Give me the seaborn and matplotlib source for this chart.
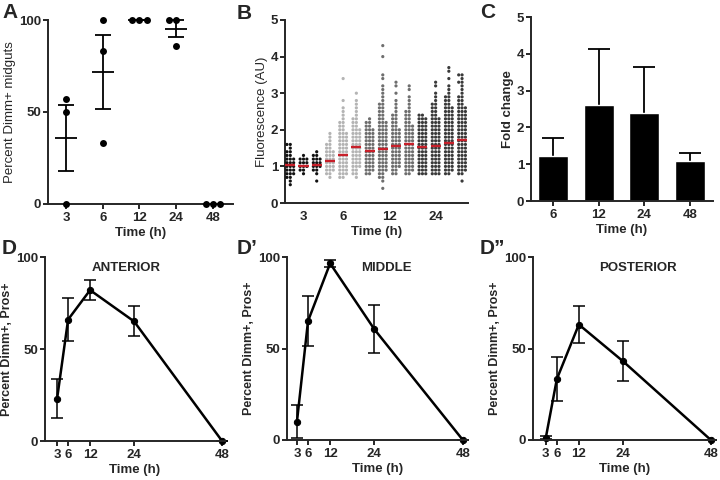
import warnings
import numpy as np
import pandas as pd
import matplotlib
matplotlib.use("Agg")
import matplotlib.pyplot as plt
import seaborn as sns

warnings.filterwarnings("ignore")

# ---- panel A: percent Dimm+ midguts, one dot per replicate
a_times = ["3", "6", "12", "24", "48"]
a_3h = [57, 50, 0]
a_6h = [100, 83, 33]
a_12h = [100, 100, 100]
a_24h = [100, 100, 86]
a_48h = [0, 0, 0]

# ---- panel B: fluorescence per gut, counts per 0.1 AU bin
b_start = [0.5, 0.8, 0.6, 0.7, 0.7, 0.7, 0.8, 0.4, 0.8, 0.8, 0.8, 0.8, 0.8, 0.6]
b_counts = [
    [1, 1, 2, 3, 3, 3, 3, 3, 2, 2, 1, 2],
    [1, 2, 3, 3, 3, 1],
    [1, 0, 1, 2, 3, 3, 3, 2, 1],
    [1, 2, 3, 3, 3, 3, 3, 3, 2, 2, 1, 1, 1],
    [2, 3, 3, 3, 3, 3, 3, 3, 3, 3, 3, 3, 3, 2, 2, 2, 1, 1, 1, 1, 0, 1, 0, 0, 0, 0, 0, 1],
    [1, 2, 2, 3, 3, 3, 3, 3, 3, 3, 3, 3, 3, 3, 2, 2, 2, 1, 1, 1, 1, 1, 0, 1],
    [2, 3, 3, 3, 3, 3, 3, 3, 3, 3, 3, 3, 3, 2, 2, 1],
    [1, 0, 1, 2, 2, 3, 3, 3, 3, 3, 3, 3, 3, 3, 3, 3, 3, 3, 3, 2, 2, 2, 2, 2, 1, 1,
     1, 1, 1, 0, 1, 1, 0, 0, 0, 0, 1, 0, 0, 1],
    [2, 2, 3, 3, 3, 3, 3, 3, 3, 3, 3, 3, 3, 2, 2, 2, 2, 1, 1, 1, 1, 0, 1, 0, 1, 1],
    [2, 3, 3, 3, 3, 3, 3, 3, 3, 3, 3, 3, 3, 3, 2, 2, 2, 2, 1, 1, 1, 1, 0, 1, 1],
    [3, 3, 3, 3, 3, 3, 3, 3, 3, 3, 3, 3, 3, 3, 3, 3, 2],
    [3, 3, 3, 3, 3, 3, 3, 3, 3, 3, 3, 3, 3, 3, 3, 3, 2, 2, 2, 2, 1, 1, 1, 0, 1, 1],
    [2, 3, 3, 3, 3, 3, 3, 3, 3, 3, 3, 3, 3, 3, 3, 3, 3, 3, 3, 2, 2, 2, 1, 1, 1, 0, 1, 0, 1, 1],
    [1, 0, 2, 3, 3, 3, 3, 3, 3, 3, 3, 3, 3, 3, 3, 3, 3, 3, 3, 3, 3, 2, 2, 2, 1, 1, 1, 2, 1, 2],
]
b_medians = [1.03, 1.02, 1.03, 1.15, 1.30, 1.53, 1.41, 1.47, 1.57, 1.60, 1.52, 1.55, 1.65, 1.73]
b_shades = ["#111111"] * 3 + ["#b4b4b4"] * 3 + ["#6e6e6e"] * 4 + ["#3a3a3a"] * 4
b_tick_pos = [1, 4, 7.5, 11]
b_tick_lab = ["3", "6", "12", "24"]

# ---- panel C: fold change
c_times = ["6", "12", "24", "48"]
c_fold = [1.23, 2.60, 2.40, 1.08]
c_err = [0.47, 1.53, 1.23, 0.22]

# ---- panels D: percent Dimm+, Pros+ by region
d_times = [3, 6, 12, 24, 48]
d_ant = [23, 66, 82, 65, 0]
d_ant_sem = [10.5, 11.7, 5.4, 8.2, 0]
d_mid = [10, 65, 96.5, 60.5, 0]
d_mid_sem = [9.1, 13.9, 1.8, 13.2, 0]
d_post = [1.3, 33.3, 63.1, 43.1, 0]
d_post_sem = [1.0, 12.0, 10.0, 11.1, 0]

sns.set_style("ticks")
plt.rcParams["font.family"] = ["Liberation Sans", "DejaVu Sans"]
plt.rcParams["axes.linewidth"] = 1.4
plt.rcParams["xtick.major.width"] = 1.4
plt.rcParams["ytick.major.width"] = 1.4
plt.rcParams["xtick.major.size"] = 3.5
plt.rcParams["ytick.major.size"] = 3.5
plt.rcParams["xtick.major.pad"] = 2.5
plt.rcParams["ytick.major.pad"] = 1.5
plt.rcParams["xtick.labelsize"] = 9.5
plt.rcParams["ytick.labelsize"] = 9.5
plt.rcParams["axes.labelpad"] = 2

fig = plt.figure(figsize=(7.2, 4.8), dpi=100)


def px_axes(left, top, right, bottom):
    return fig.add_axes([left / 720, 1 - bottom / 480, (right - left) / 720, (bottom - top) / 480])


def finish(ax):
    sns.despine(ax=ax)
    for lab in ax.get_xticklabels() + ax.get_yticklabels():
        lab.set_fontweight("bold")


# A
axA = px_axes(48, 20, 233, 204)
df_a = pd.DataFrame({
    "time": np.repeat(a_times, 3),
    "pct": a_3h + a_6h + a_12h + a_24h + a_48h,
})
axA.set_ylim(0, 100)
sns.swarmplot(data=df_a, x="time", y="pct", order=a_times, color="black", size=5, ax=axA)
for c in axA.collections:
    c.set_clip_on(False)
stats = df_a.groupby("time", sort=False)["pct"].agg(["mean", "sem"]).reindex(a_times)
xa = np.arange(len(a_times))
axA.hlines(stats["mean"], xa - 0.3, xa + 0.3, color="black", lw=1.3, clip_on=False)
axA.errorbar(xa, stats["mean"], yerr=stats["sem"].fillna(0), fmt="none", ecolor="black",
             elinewidth=1.3, capsize=5.5, capthick=1.3, clip_on=False)
axA.set_xlim(-0.49, 4.55)
axA.set_ylim(0, 100)
axA.set_yticks([0, 50, 100])
axA.set_xlabel("Time (h)", fontsize=9.5, fontweight="bold")
axA.set_ylabel("Percent Dimm+ midguts", fontsize=9.5)
finish(axA)

# B
axB = px_axes(285, 20, 468, 203)
rows = []
for g, (s, cnts) in enumerate(zip(b_start, b_counts)):
    vals = np.repeat(np.round(s + 0.1 * np.arange(len(cnts)), 2), cnts)
    rows.append(pd.DataFrame({"grp": g, "val": vals}))
df_b = pd.concat(rows, ignore_index=True)
axB.set_ylim(0, 5)
sns.swarmplot(data=df_b, x="grp", y="val", hue="grp", order=list(range(14)),
              palette=dict(enumerate(b_shades)), size=2.3, legend=False, ax=axB)
xb = np.arange(len(b_medians))
axB.hlines(b_medians, xb - 0.38, xb + 0.38, color="#c8202a", lw=1.7, zorder=5)
axB.set_xlim(-0.4, 13.45)
axB.set_ylim(0, 5)
axB.set_xticks(b_tick_pos)
axB.set_xticklabels(b_tick_lab)
axB.tick_params(axis="x", length=0, pad=6)
axB.set_xlabel("Time (h)", fontsize=9.5, fontweight="bold")
axB.set_ylabel("Fluorescence (AU)", fontsize=9.5)
finish(axB)

# C
axC = px_axes(531, 17, 713, 201)
axC.errorbar(np.arange(len(c_times)), c_fold, yerr=c_err, fmt="none",
             ecolor="black", elinewidth=1.3, capsize=8, capthick=1.3, zorder=0)
sns.barplot(x=c_times, y=c_fold, order=c_times, color="black", saturation=1, width=0.66,
            ax=axC, zorder=2)
axC.set_xlim(-0.48, 3.5)
axC.set_ylim(0, 5)
axC.set_xlabel("Time (h)", fontsize=9.5, fontweight="bold")
axC.set_ylabel("Fold change", fontsize=9.5, fontweight="bold")
finish(axC)

# D panels
d_panels = [
    ((45, 257, 225, 441), (-0.3, 48.8), d_ant, d_ant_sem, "ANTERIOR", 0.45),
    ((287, 257, 468, 440), (0.3, 49.4), d_mid, d_mid_sem, "MIDDLE", 0.55),
    ((533, 257, 716, 440), (-0.5, 49.4), d_post, d_post_sem, "POSTERIOR", 0.575),
]
for box, xl, vals, sem, title, tx in d_panels:
    ax = px_axes(*box)
    sns.lineplot(x=d_times, y=vals, color="black", lw=1.8, marker="o", markersize=4.5,
                 markeredgecolor="black", ax=ax, clip_on=False)
    ax.errorbar(d_times, vals, yerr=sem, fmt="none", ecolor="black", elinewidth=1.1,
                capsize=4, capthick=1.1, clip_on=False)
    ax.set_xlim(*xl)
    ax.set_ylim(0, 100)
    ax.set_xticks(d_times)
    ax.set_yticks([0, 50, 100])
    ax.set_xlabel("Time (h)", fontsize=9.5, fontweight="bold")
    ax.set_ylabel("Percent Dimm+, Pros+", fontsize=9, fontweight="bold")
    ax.text(tx, 0.94, title, transform=ax.transAxes, ha="center", va="center",
            fontsize=9.5, fontweight="bold")
    finish(ax)

# panel letters
for lab, x, y in [("A", 2, 3), ("B", 237, 4), ("C", 480, 3),
                  ("D", 2, 239), ("D\u2019", 237, 239), ("D\u201d", 480, 239)]:
    fig.text(x / 720, 1 - y / 480, lab, fontsize=15, fontweight="bold", va="top", ha="left")

fig.savefig("out.png", dpi=100)
